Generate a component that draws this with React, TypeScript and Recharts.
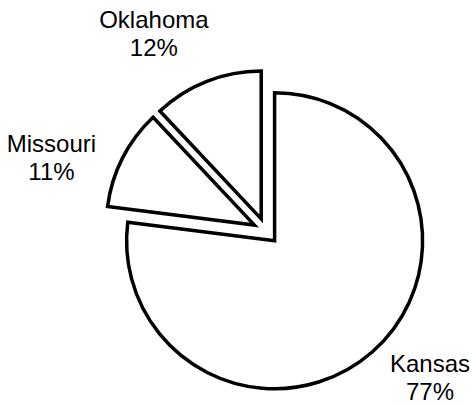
import React from 'react';
import { PieChart, Pie, Cell } from 'recharts';

const states = ['Kansas', 'Missouri', 'Oklahoma'];
const shares = [77, 11, 12];

const W = 472;
const H = 406;
const CX = 266;
const CY = 231;
const RADIUS = 148;
const EXPLODE = 13;
const LABEL_GAP = 66;
const LABEL_ROTATE = 8.5;
const FONT_SIZE = 24;
const FONT = "'Liberation Sans', Arial, sans-serif";
const LINE_GAP = 28;
const EDGE = 2;
const RAD = Math.PI / 180;

const data = states.map((name, i) => ({ name, value: shares[i] }));
const total = shares.reduce((a, b) => a + b, 0);

function sliceMid(i: number): number {
  const before = shares.slice(0, i).reduce((a, b) => a + b, 0);
  return 90 - (360 * (before + shares[i] / 2)) / total;
}

function textWidth(t: string): number {
  try {
    const ctx = document.createElement('canvas').getContext('2d');
    if (ctx) {
      ctx.font = `${FONT_SIZE}px ${FONT}`;
      return ctx.measureText(t).width;
    }
  } catch (e) {}
  return t.length * FONT_SIZE * 0.55;
}

function makeLabel(target: number) {
  return (props: any) => {
    if (props.index !== target) return null;
    const a = props.midAngle + LABEL_ROTATE;
    const r = props.outerRadius + LABEL_GAP;
    const l1 = props.name;
    const l2 = `${Math.round(props.percent * 100)}%`;
    const half = Math.max(textWidth(l1), textWidth(l2)) / 2;
    let x = props.cx + r * Math.cos(-a * RAD);
    x = Math.min(Math.max(x, half + EDGE), W - half - EDGE);
    const y = props.cy + r * Math.sin(-a * RAD);
    const cap = FONT_SIZE * 0.716;
    let b1 = y - (cap + LINE_GAP) / 2 + cap;
    b1 = Math.min(b1, H - EDGE - 4 - LINE_GAP);
    return (
      <text textAnchor="middle" fontFamily={FONT} fontSize={FONT_SIZE} fill="#000">
        <tspan x={x} y={b1}>{l1}</tspan>
        <tspan x={x} y={b1 + LINE_GAP}>{l2}</tspan>
      </text>
    );
  };
}

export default function App() {
  return (
    <div style={{ position: 'absolute', left: 0, top: 0, width: W, height: H, background: '#fff' }}>
      <PieChart width={W} height={H} margin={{ top: 0, right: 0, bottom: 0, left: 0 }}>
        {states.map((s, i) => {
          const m = sliceMid(i);
          const cx = CX + EXPLODE * Math.cos(m * RAD);
          const cy = CY - EXPLODE * Math.sin(m * RAD);
          return (
            <Pie
              key={s}
              data={data}
              dataKey="value"
              nameKey="name"
              cx={cx}
              cy={cy}
              outerRadius={RADIUS}
              innerRadius={0}
              startAngle={90}
              endAngle={-270}
              isAnimationActive={false}
              labelLine={false}
              label={makeLabel(i)}
            >
              {data.map((d, j) => (
                <Cell
                  key={d.name}
                  fill={j === i ? '#ffffff' : 'none'}
                  stroke={j === i ? '#000000' : 'none'}
                  strokeWidth={3.5}
                />
              ))}
            </Pie>
          );
        })}
      </PieChart>
    </div>
  );
}
